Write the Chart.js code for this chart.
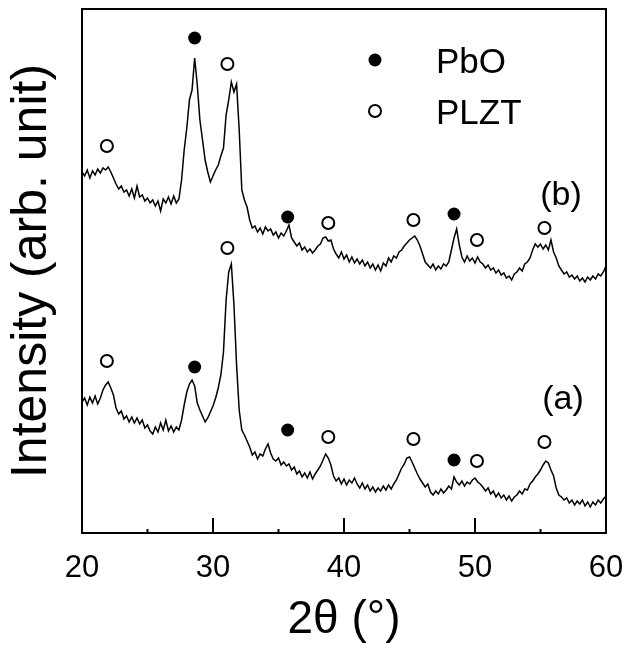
<!DOCTYPE html>
<html>
<head>
<meta charset="utf-8">
<script src="https://cdn.jsdelivr.net/npm/chart.js@4.4.1/dist/chart.umd.min.js"></script>
<style>
  html, body { margin: 0; padding: 0; background: #fff; }
  #wrap { width: 626px; height: 650px; }
</style>
</head>
<body>
<div id="wrap"><canvas id="xrd" width="626" height="650"></canvas></div>
<script>
// scan: 20 -> 60 deg, 0.2 deg step
var scanStart = 20, scanStep = 0.2;

// (a) lower pattern
var intensityA = [
  131,135,128,136,130,137,129,135,143,148,
  151,145,138,125,119,122,114,117,111,116,
  110,115,109,113,105,108,102,99,106,101,
  110,103,113,102,107,101,106,103,113,128,
  141,149,153,147,130,123,117,111,115,121,
  127,135,145,158,181,233,261,269,228,168,
  123,103,98,92,86,78,81,74,79,77,
  84,89,80,74,72,75,68,71,67,69,
  63,66,59,62,56,60,55,61,54,59,
  63,67,73,79,75,68,57,52,55,49,
  54,48,53,50,55,49,45,50,44,48,
  42,46,41,45,42,47,43,48,44,49,
  53,59,65,69,75,76,71,65,59,54,
  50,46,49,41,38,42,39,44,40,43,
  47,44,56,51,48,52,47,51,49,53,
  55,51,49,46,42,45,39,42,36,40,
  35,38,33,37,32,36,38,42,39,44,
  43,49,52,56,59,63,68,72,70,63,
  57,45,38,36,33,35,30,33,28,32,
  29,33,27,31,26,31,28,33,30,34,
  37
];

// (b) upper pattern
var intensityB = [
  361,357,363,355,362,358,364,360,365,363,
  366,361,355,349,344,347,341,343,337,344,
  335,347,336,338,332,335,330,333,327,332,
  322,334,330,336,329,337,330,334,353,383,
  405,433,443,475,448,413,393,373,361,351,
  357,363,368,377,385,418,433,451,441,449,
  403,343,333,326,313,305,307,301,305,299,
  306,302,304,298,301,295,300,297,302,308,
  295,291,287,290,283,286,281,284,280,283,
  287,289,295,296,292,293,284,279,275,281,
  274,278,271,276,270,274,269,273,267,271,
  265,269,263,268,262,270,267,275,271,277,
  275,281,283,287,290,293,295,297,293,287,
  279,271,268,265,269,263,267,264,269,267,
  271,283,295,304,288,276,271,277,272,275,
  270,276,271,269,265,268,263,265,260,263,
  258,260,255,257,253,259,261,265,262,269,
  271,275,283,289,286,289,284,288,283,293,
  281,275,267,263,259,261,256,258,254,257,
  252,255,251,256,253,257,254,259,257,261,
  267
];

// phase markers
var pbo2Theta = [28.6, 35.7, 48.4];
var pboMarkA = [166, 103, 73];
var pboMarkB = [495, 316, 319];
var plzt2Theta = [21.9, 31.1, 38.8, 45.3, 50.15, 55.3];
var plztMarkA = [172, 285, 96, 94, 72, 91];
var plztMarkB = [387, 469, 310, 313, 293, 305];

var majorTicks = [20, 30, 40, 50, 60];
var minorTicks = [25, 35, 45, 55];

var FONT = '"Liberation Sans", Arial, Helvetica, sans-serif';

function toPoints(xs, ys) {
    var out = [];
    for (var i = 0; i < ys.length; i++) {
        out.push({x: xs[i], y: ys[i]});
    }
    return out;
}

function scanPoints(ys) {
    var out = [];
    for (var i = 0; i < ys.length; i++) {
        out.push({x: +(scanStart + i * scanStep).toFixed(2), y: ys[i]});
    }
    return out;
}

var framePlugin = {
    id: 'frame',
    afterDatasetsDraw: function(chart) {
        var ctx = chart.ctx, a = chart.chartArea, xs = chart.scales.x;
        ctx.save();
        ctx.strokeStyle = '#000';
        ctx.lineWidth = 2;
        ctx.strokeRect(a.left, a.top, a.right - a.left, a.bottom - a.top);
        ctx.beginPath();
        majorTicks.forEach(function(v) {
            var px = xs.getPixelForValue(v);
            ctx.moveTo(px, a.bottom);
            ctx.lineTo(px, a.bottom - 15);
        });
        minorTicks.forEach(function(v) {
            var px = xs.getPixelForValue(v);
            ctx.moveTo(px, a.bottom);
            ctx.lineTo(px, a.bottom - 4);
        });
        ctx.stroke();

        // legend
        ctx.fillStyle = '#000';
        ctx.beginPath();
        ctx.arc(375, 60, 6.5, 0, Math.PI * 2);
        ctx.fill();
        ctx.beginPath();
        ctx.arc(375, 111, 6, 0, Math.PI * 2);
        ctx.fillStyle = '#fff';
        ctx.fill();
        ctx.stroke();
        ctx.fillStyle = '#000';
        ctx.font = '35px ' + FONT;
        ctx.textBaseline = 'middle';
        ctx.textAlign = 'left';
        ctx.fillText('PbO', 436, 63);
        ctx.fillText('PLZT', 436, 114);

        // pattern labels
        ctx.font = '34px ' + FONT;
        ctx.textAlign = 'center';
        ctx.fillText('(b)', 561, 196);
        ctx.fillText('(a)', 563, 400);
        ctx.restore();
    }
};

var ctx = document.getElementById('xrd').getContext('2d');
var chart = new Chart(ctx, {
    type: 'line',
    data: {
        datasets: [
            {
                label: '(a)',
                data: scanPoints(intensityA),
                borderColor: '#000',
                borderWidth: 1.5,
                pointRadius: 0,
                tension: 0
            },
            {
                label: '(b)',
                data: scanPoints(intensityB),
                borderColor: '#000',
                borderWidth: 1.5,
                pointRadius: 0,
                tension: 0
            },
            {
                label: 'PbO',
                data: toPoints(pbo2Theta, pboMarkA).concat(toPoints(pbo2Theta, pboMarkB)),
                showLine: false,
                pointStyle: 'circle',
                pointRadius: 6.5,
                pointBorderWidth: 0,
                pointBackgroundColor: '#000',
                pointBorderColor: '#000'
            },
            {
                label: 'PLZT',
                data: toPoints(plzt2Theta, plztMarkA).concat(toPoints(plzt2Theta, plztMarkB)),
                showLine: false,
                pointStyle: 'circle',
                pointRadius: 6,
                pointBorderWidth: 2,
                pointBackgroundColor: '#fff',
                pointBorderColor: '#000'
            }
        ]
    },
    options: {
        responsive: false,
        animation: false,
        layout: {
            padding: {top: 9, right: 20, left: 0, bottom: 0}
        },
        scales: {
            x: {
                type: 'linear',
                min: 20,
                max: 60,
                afterFit: function(scale) {
                    scale.height = 117;
                    scale.paddingLeft = 0;
                    scale.paddingRight = 0;
                },
                afterBuildTicks: function(scale) {
                    scale.ticks = majorTicks.map(function(v) { return {value: v}; });
                },
                grid: {display: false},
                border: {display: false},
                ticks: {
                    color: '#000',
                    padding: 9,
                    font: {family: FONT, size: 31}
                },
                title: {
                    display: true,
                    text: '2θ (°)',
                    color: '#000',
                    padding: {top: 0, bottom: 2},
                    font: {family: FONT, size: 46}
                }
            },
            y: {
                min: 0,
                max: 524,
                afterFit: function(scale) { scale.width = 82; },
                grid: {display: false},
                border: {display: false},
                ticks: {display: false},
                title: {
                    display: true,
                    text: 'Intensity (arb. unit)',
                    color: '#000',
                    padding: {top: 2, bottom: 0},
                    font: {family: FONT, size: 50}
                }
            }
        },
        plugins: {
            legend: {display: false},
            tooltip: {enabled: false}
        }
    },
    plugins: [framePlugin]
});
</script>
</body>
</html>
